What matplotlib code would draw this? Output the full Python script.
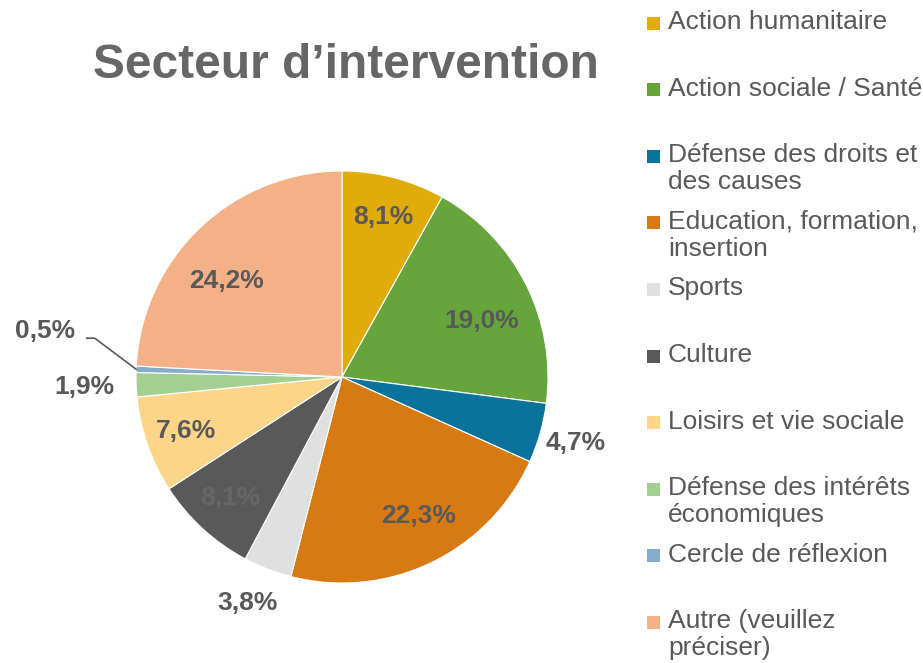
import numpy as np
import matplotlib
matplotlib.use("Agg")
import matplotlib.pyplot as plt
from matplotlib.patches import Rectangle

plt.rcParams['font.family'] = ['Liberation Sans', 'DejaVu Sans']

# données
categories = ["Action humanitaire", "Action sociale / Santé",
              "Défense des droits et\ndes causes", "Education, formation,\ninsertion",
              "Sports", "Culture", "Loisirs et vie sociale",
              "Défense des intérêts\néconomiques", "Cercle de réflexion",
              "Autre (veuillez\npréciser)"]
values = [8.1, 19.0, 4.7, 22.3, 3.8, 8.1, 7.6, 1.9, 0.5, 24.2]
value_labels = ["8,1%", "19,0%", "4,7%", "22,3%", "3,8%", "8,1%", "7,6%", "1,9%", "0,5%", "24,2%"]
colors = ["#E0AC0A", "#65A53C", "#0A739C", "#D87A13", "#E0E0E0",
          "#595959", "#FDD589", "#A3CF91", "#83ADCB", "#F4B086"]

# position des étiquettes (fraction du rayon, décalage angulaire en degrés)
label_dist = [0.80, 0.73, 1.18, 0.77, 1.19, 0.80, 0.80, 1.25, 1.46, 0.73]
label_shift = [0, -5, 0, 3, -1.5, 0, 0, 0, -6.6, 7]
label_colors = ["#595959"] * 10
label_colors[5] = "#666666"

W, H = 923, 663
fig = plt.figure(figsize=(W / 100, H / 100), dpi=100)
ax = fig.add_axes([0, 0, 1, 1])

cx, cy, r = 342, H - 377, 206
wedges, _ = ax.pie(values, colors=colors, startangle=90, counterclock=False,
                   radius=r, center=(cx, cy), frame=True,
                   wedgeprops=dict(edgecolor='white', linewidth=0.8))
ax.set_xlim(0, W)
ax.set_ylim(0, H)
ax.set_aspect('equal')
ax.axis('off')

for i, w in enumerate(wedges):
    mid = np.deg2rad((w.theta1 + w.theta2) / 2)
    ang = mid + np.deg2rad(label_shift[i])
    d = label_dist[i] * r
    lx, ly = cx + d * np.cos(ang), cy + d * np.sin(ang)
    ax.text(lx, ly, value_labels[i], ha='center', va='center', fontsize=19,
            fontweight='bold', color=label_colors[i])
    if i == 8:
        # ligne de rappel
        ex, ey = cx + r * np.cos(mid), cy + r * np.sin(mid)
        ax.plot([lx + 42, lx + 50, ex], [ly - 7, ly - 7, ey], color='#595959', lw=1.2)

ax.text(346, H - 65, "Secteur d\u2019intervention", ha='center', va='center',
        fontsize=34.5, fontweight='bold', color='#666666')

# légende
for i, (lab, col) in enumerate(zip(categories, colors)):
    y = H - (23 + i * 66.6)
    ax.add_patch(Rectangle((647, y - 6.5), 13, 13, color=col, lw=0))
    ax.text(668, y + 13, lab, ha='left', va='top', fontsize=19,
            color='#595959', linespacing=1.15)

fig.savefig("out.png", dpi=100)
